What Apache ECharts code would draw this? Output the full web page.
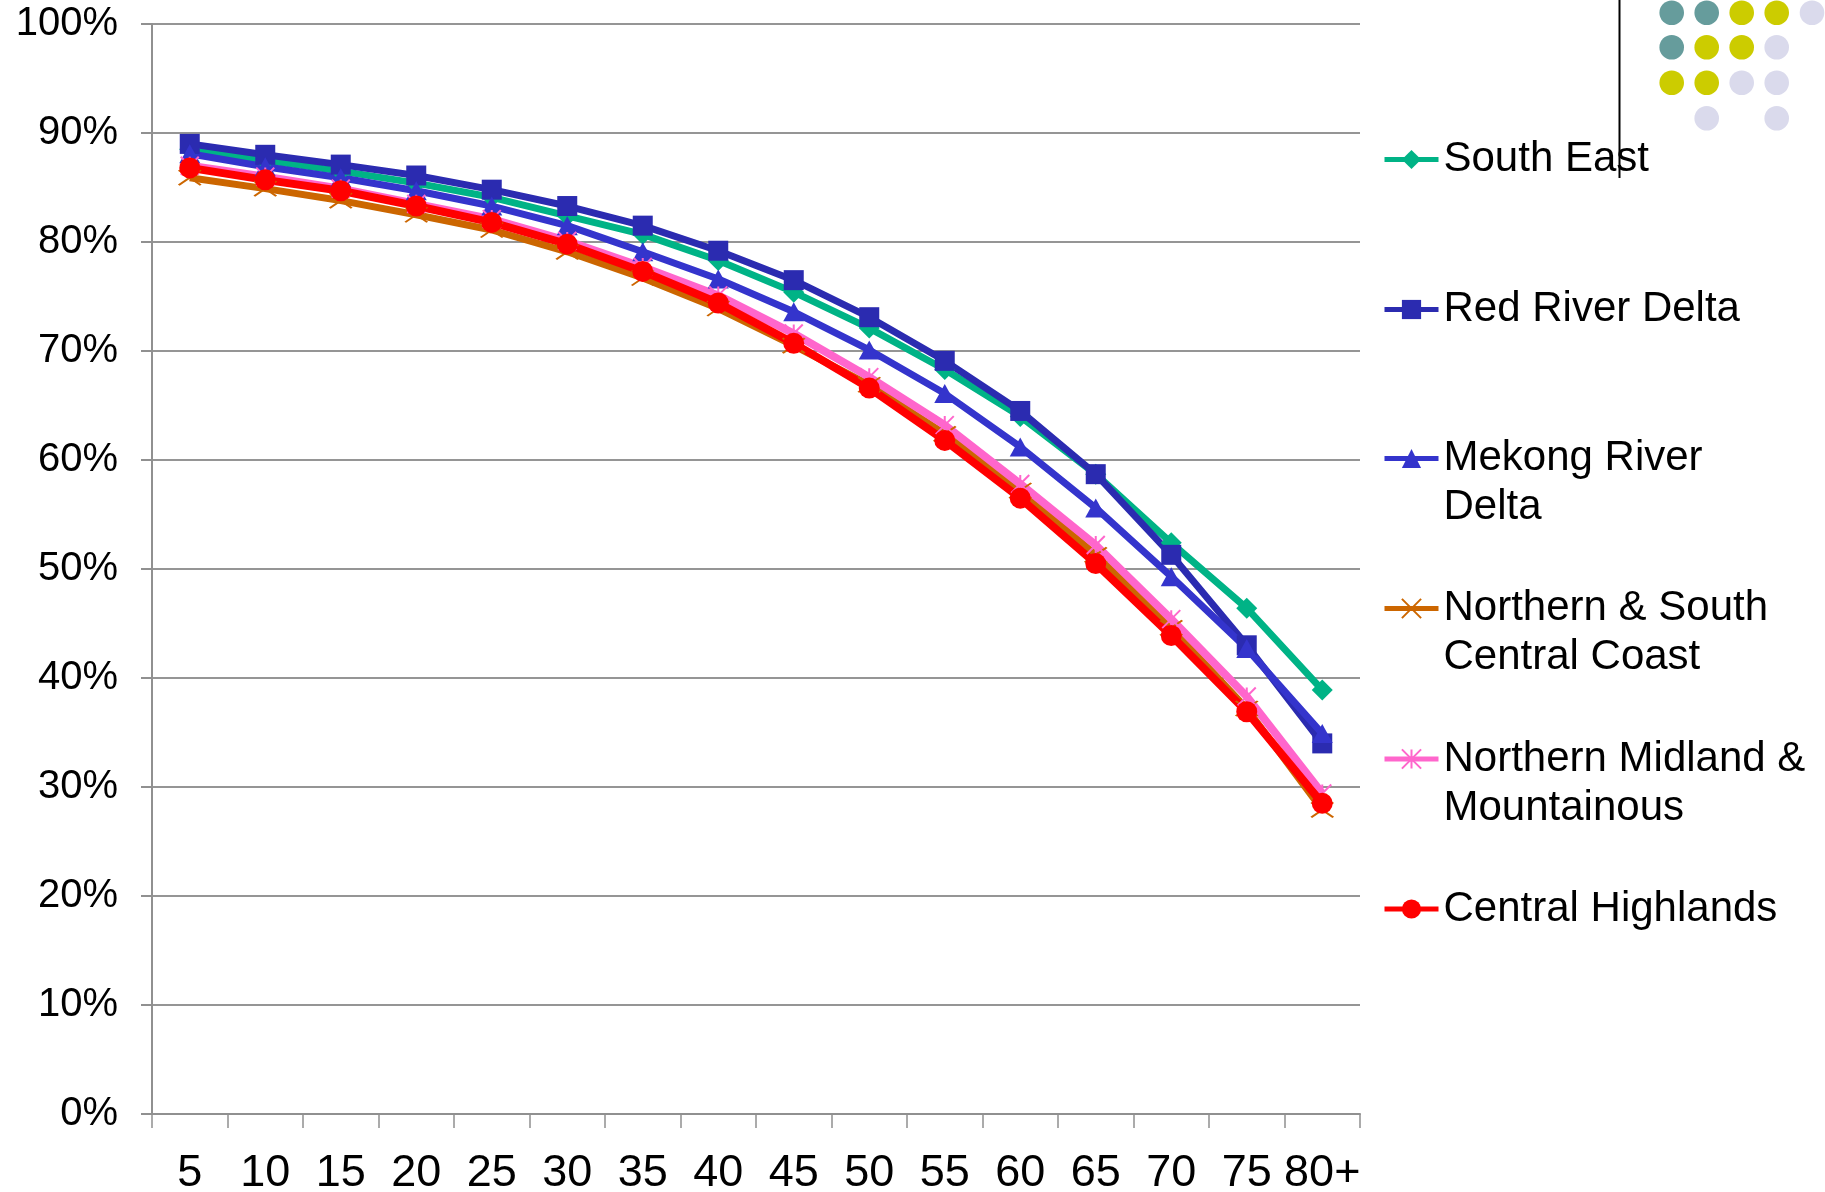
<!DOCTYPE html>
<html>
<head>
<meta charset="utf-8">
<script src="https://cdn.jsdelivr.net/npm/echarts@6/dist/echarts.min.js"></script>
<style>
html,body{margin:0;padding:0;background:#fff;}
#chart{width:1825px;height:1192px;}
</style>
</head>
<body>
<div id="chart"></div>
<script>
const categories = ['5','10','15','20','25','30','35','40','45','50','55','60','65','70','75','80+'];
const seriesNames = ['South East','Red River Delta','Mekong River Delta','Northern & South Central Coast','Northern Midland & Mountainous','Central Highlands'];
const southEast = [88.5, 87.5, 86.5, 85.4, 84.1, 82.4, 80.7, 78.3, 75.4, 72.1, 68.3, 64.0, 58.7, 52.4, 46.4, 38.9];
const redRiverDelta = [89.0, 88.0, 87.1, 86.1, 84.8, 83.3, 81.5, 79.2, 76.5, 73.1, 69.1, 64.5, 58.7, 51.3, 43.0, 34.0];
const mekongRiverDelta = [88.1, 86.9, 85.9, 84.7, 83.3, 81.5, 79.1, 76.6, 73.6, 70.1, 66.1, 61.2, 55.6, 49.3, 42.7, 34.9];
const northernSouthCentralCoast = [85.9, 84.9, 83.8, 82.5, 81.1, 79.1, 76.7, 73.9, 70.5, 66.9, 62.4, 57.2, 51.3, 44.6, 37.2, 27.9];
const northernMidlandMountainous = [87.0, 86.0, 84.9, 83.5, 82.1, 80.1, 77.7, 75.1, 71.6, 67.6, 63.2, 57.8, 52.2, 45.4, 38.3, 29.4];
const centralHighlands = [86.8, 85.7, 84.7, 83.3, 81.8, 79.8, 77.3, 74.4, 70.7, 66.6, 61.8, 56.5, 50.5, 43.9, 36.9, 28.5];
const yTicks = [0, 100, 10]; // min, max, interval

const colors = ['#00B386', '#2B2BB0', '#3434CC', '#CC6600', '#FF66CC', '#FF0000'];
const symbols = ['diamond', 'rect', 'triangle', 'path://M0,0L20,14M0,14L20,0', 'path://M0,0L16,16M0,16L16,0M8,0L8,16', 'circle'];
const symbolSizes = [21, 20, [21, 19], [22, 15], 18, 21];
const lineWidths = [7, 7, 7, 7, 8, 8];
const dataSets = [southEast, redRiverDelta, mekongRiverDelta, northernSouthCentralCoast, northernMidlandMountainous, centralHighlands];
const legendLabels = ['South East', 'Red River Delta', '\nMekong River\nDelta', '\nNorthern & South\nCentral Coast', '\nNorthern Midland &\nMountainous', 'Central Highlands'];
const legendTops = [135, 285, 385, 535, 685.5, 884.5];

const font = 'Liberation Sans, Arial, Helvetica, sans-serif';

const series = dataSets.map((d, i) => ({
  name: seriesNames[i],
  type: 'line',
  data: d,
  symbol: symbols[i],
  symbolSize: symbolSizes[i],
  showAllSymbol: true,
  lineStyle: { color: colors[i], width: lineWidths[i] },
  itemStyle: {
    color: (i === 3 || i === 4) ? 'rgba(0,0,0,0)' : colors[i],
    borderColor: colors[i],
    borderWidth: (i === 3 || i === 4) ? 2 : 0,
    opacity: 1
  },
  emphasis: { disabled: true },
  animation: false
}));

const legends = seriesNames.map((n, i) => ({
  data: [n],
  orient: 'vertical',
  left: 1382,
  top: legendTops[i],
  padding: 0,
  itemWidth: 54,
  itemHeight: 24,
  selectedMode: false,
  lineStyle: { width: 5 },
  formatter: () => legendLabels[i],
  textStyle: { fontFamily: font, fontSize: 42, lineHeight: 49, color: '#000' }
}));

// decorative dots (top-right)
const dotTeal = '#669C9C', dotYellow = '#CCCC00', dotLav = '#DADAEC';
const dotCols = [1671.7, 1706.7, 1741.7, 1776.7, 1812];
const dotRows = [12.7, 47.3, 82.7, 118.3];
const dotLayout = [
  [dotTeal, dotTeal, dotYellow, dotYellow, dotLav],
  [dotTeal, dotYellow, dotYellow, dotLav, null],
  [dotYellow, dotYellow, dotLav, dotLav, null],
  [null, dotLav, null, dotLav, null]
];
const graphics = [];
dotLayout.forEach((row, r) => row.forEach((c, k) => {
  if (c) graphics.push({ type: 'circle', shape: { cx: dotCols[k], cy: dotRows[r], r: 12.3 }, style: { fill: c }, silent: true });
}));
graphics.push({ type: 'line', shape: { x1: 1619.5, y1: 0, x2: 1619.5, y2: 178 }, style: { stroke: '#000', lineWidth: 2 }, silent: true, z: 100 });

const chart = echarts.init(document.getElementById('chart'), null, { renderer: 'canvas' });
chart.setOption({
  backgroundColor: '#fff',
  animation: false,
  grid: { left: 152, right: 465, top: 24, bottom: 78, containLabel: false, outerBoundsMode: 'none' },
  legend: legends,
  xAxis: {
    type: 'category',
    data: categories,
    boundaryGap: true,
    axisLine: { lineStyle: { color: '#909090', width: 2 } },
    axisTick: { show: true, alignWithLabel: false, length: 14, lineStyle: { color: '#909090', width: 1.5 } },
    axisLabel: {
      interval: 0, margin: 37, color: '#000',
      fontFamily: font, fontSize: 45
    },
    splitLine: { show: false }
  },
  yAxis: {
    type: 'value',
    min: yTicks[0], max: yTicks[1], interval: yTicks[2],
    axisLine: { show: true, lineStyle: { color: '#909090', width: 2 } },
    axisTick: { show: true, length: 11, lineStyle: { color: '#909090', width: 2 } },
    axisLabel: { formatter: '{value}%', margin: 34, color: '#000', fontFamily: font, fontSize: 40 },
    splitLine: { show: true, lineStyle: { color: '#959595', width: 2 } }
  },
  series: series,
  graphic: graphics
});
</script>
</body>
</html>
